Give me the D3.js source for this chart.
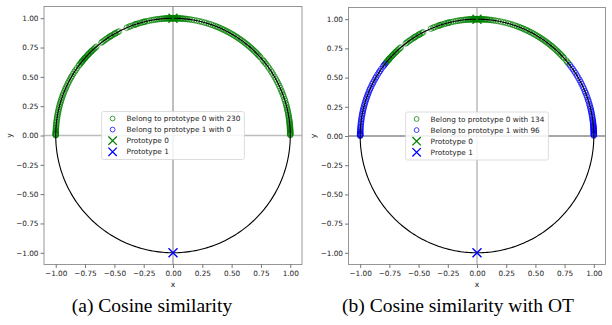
<!DOCTYPE html>
<html><head><meta charset="utf-8">
<script src="https://cdn.jsdelivr.net/npm/d3@7"></script>
<style>
html,body{margin:0;padding:0;background:#fff;}
svg{display:block;}
</style></head>
<body>
<svg id="chart" width="612" height="325"></svg>
<script>
// ---------- DATA ----------
// angles (degrees) of the 230 normalised samples on the upper unit semicircle
// OT assignment: samples that go to prototype 1 (near both ends of the arc)
const otProto1Angles = [
  0.2,0.5,0.8,1.1,1.4,1.8,2.1,2.5,2.9,3.3,3.6,4.0,4.4,4.9,5.3,5.8,6.4,6.9,7.5,8.0,
  8.7,9.5,10.2,11.0,11.8,12.5,13.4,14.2,15.1,16.0,17.2,18.1,19.3,20.4,21.6,22.5,23.8,25.0,
  26.3,27.4,28.6,29.9,31.2,32.5,33.6,34.9,36.1,37.4,
  142.0,142.8,143.5,145.0,146.2,147.1,148.3,149.6,150.4,151.5,152.7,153.6,154.8,155.9,156.7,
  157.8,158.9,159.7,160.6,161.5,162.4,163.3,164.2,165.0,165.9,166.7,167.6,168.4,169.2,170.0,
  170.9,171.7,172.5,173.3,174.0,174.8,175.5,176.2,176.8,177.4,177.9,178.3,178.7,179.0,179.3,
  179.5,179.7,179.9
];
// OT assignment: samples that go to prototype 0 (middle of the arc)
const otProto0Angles = [
  38.5,39.3,40.2,41.9,42.7,43.6,44.3,45.1,46.0,46.8,47.7,48.5,49.4,50.2,51.0,51.9,52.7,
  53.6,54.4,55.3,56.1,57.0,57.8,58.7,59.5,60.4,61.2,62.1,63.0,63.8,64.7,65.5,66.4,67.3,68.1,
  69.0,70.0,71.1,72.2,73.4,74.5,75.8,77.0,78.3,
  79.6,80.8,81.9,82.8,83.6,84.3,85.0,85.6,86.2,86.7,87.2,87.6,88.0,88.4,88.7,89.0,89.3,89.6,
  89.8,90.0,90.2,90.4,90.7,91.0,91.3,91.6,92.0,92.4,92.9,93.4,94.0,94.6,95.3,96.0,96.8,97.7,
  98.6,99.5,100.5,101.6,
  102.8,103.9,104.6,105.5,106.3,107.4,108.2,109.0,110.1,111.3,112.0,113.2,117.5,118.3,119.2,
  120.0,121.1,121.9,122.7,123.5,124.4,125.2,126.0,126.9,127.6,130.8,131.5,132.3,133.0,133.8,
  134.5,135.2,135.9,136.6,137.3,137.9,138.5,139.1,139.6,140.1,140.6,141.1,141.4,108.7,104.2,
  119.7,122.3,134.1,136.2,138.8
];
// plain cosine similarity: every sample goes to prototype 0
const cosProto0Angles = otProto0Angles.concat(otProto1Angles);
const cosProto1Angles = [];

const prototypeX = [0, 0];
const prototypeY = [1, -1];
const prototypeNames = ["Prototype 0", "Prototype 1"];
const captions = ["(a) Cosine similarity", "(b) Cosine similarity with OT"];
const xTickValues = [-1, -0.75, -0.5, -0.25, 0, 0.25, 0.5, 0.75, 1];
const yTickValues = [-1, -0.75, -0.5, -0.25, 0, 0.25, 0.5, 0.75, 1];
const axisDomain = [-1.1, 1.1];

// ---------- STYLE ----------
const GREEN = "#008000", BLUE = "#0000ff";
const FONT = "DejaVu Sans, sans-serif";
const FS = 7.3;

const svg = d3.select("#chart");

const panels = [
  {left: 44, right: 302, top: 6.5, bottom: 264.5, p0: cosProto0Angles, p1: cosProto1Angles,
   caption: captions[0], capX: 152, vCol: "#a8a8a8", hCol: "#bdbdbd", yLabX: 9},
  {left: 348.5, right: 605.5, top: 7.5, bottom: 264.5, p0: otProto0Angles, p1: otProto1Angles,
   caption: captions[1], capX: 458, vCol: "#bdbdbd", hCol: "#8a8a8a", yLabX: 313}
];

panels.forEach(p => {
  const x = d3.scaleLinear().domain(axisDomain).range([p.left, p.right]);
  const y = d3.scaleLinear().domain(axisDomain).range([p.bottom, p.top]);
  const g = svg.append("g");

  const cid = "clip" + Math.round(p.left);
  g.append("clipPath").attr("id", cid).append("rect")
    .attr("x", p.left).attr("y", p.top).attr("width", p.right - p.left).attr("height", p.bottom - p.top);
  const plot = g.append("g").attr("clip-path", `url(#${cid})`);

  // zero lines
  plot.append("line").attr("x1", x(0)).attr("x2", x(0)).attr("y1", p.top).attr("y2", p.bottom)
    .attr("stroke", p.vCol).attr("stroke-width", 1.5);
  plot.append("line").attr("y1", y(0)).attr("y2", y(0)).attr("x1", p.left).attr("x2", p.right)
    .attr("stroke", p.hCol).attr("stroke-width", 1.5);

  // points
  const toXY = a => [Math.cos(a * Math.PI / 180), Math.sin(a * Math.PI / 180)];
  [[p.p0, GREEN], [p.p1, BLUE]].forEach(([arr, col]) => {
    plot.append("g").selectAll("circle").data(arr).join("circle")
      .attr("cx", d => x(toXY(d)[0])).attr("cy", d => y(toXY(d)[1]))
      .attr("r", 2.8).attr("fill", "none").attr("stroke", col)
      .attr("stroke-opacity", 0.7).attr("stroke-width", 1.0);
  });

  // unit circle
  const circ = d3.range(0, 361, 1).map(a => toXY(a));
  plot.append("path").attr("d", d3.line().x(d => x(d[0])).y(d => y(d[1]))(circ))
    .attr("fill", "none").attr("stroke", "#000").attr("stroke-width", 1.1);

  // prototypes
  const protoCols = [GREEN, BLUE];
  prototypeX.forEach((px, i) => {
    const cx = x(px), cy = y(prototypeY[i]), s = 4.5;
    plot.append("path").attr("d", `M${cx - s},${cy - s}L${cx + s},${cy + s}M${cx - s},${cy + s}L${cx + s},${cy - s}`)
      .attr("stroke", protoCols[i]).attr("stroke-width", 1.4).attr("fill", "none");
  });

  // frame
  g.append("rect").attr("x", p.left).attr("y", p.top).attr("width", p.right - p.left)
    .attr("height", p.bottom - p.top).attr("fill", "none").attr("stroke", "#8c8c8c").attr("stroke-width", 0.9);

  // axes
  const fmt = d3.format(".2f");
  const ax = g.append("g").attr("transform", `translate(0,${p.bottom})`)
    .call(d3.axisBottom(x).tickValues(xTickValues).tickFormat(fmt).tickSize(3.5).tickPadding(2.5));
  const ay = g.append("g").attr("transform", `translate(${p.left},0)`)
    .call(d3.axisLeft(y).tickValues(yTickValues).tickFormat(fmt).tickSize(3.5).tickPadding(2));
  [ax, ay].forEach(a => {
    a.select(".domain").remove();
    a.selectAll("line").attr("stroke", "#555").attr("stroke-width", 0.8);
    a.selectAll("text").attr("font-family", FONT).attr("font-size", FS).attr("fill", "#222");
  });

  g.append("text").attr("x", (p.left + p.right) / 2).attr("y", 287).attr("text-anchor", "middle")
    .attr("font-family", FONT).attr("font-size", FS + 0.3).attr("fill", "#222").text("x");
  g.append("text").attr("transform", `translate(${p.yLabX},${(p.top + p.bottom) / 2}) rotate(-90)`)
    .attr("text-anchor", "middle").attr("dominant-baseline", "central")
    .attr("font-family", FONT).attr("font-size", FS + 0.3).attr("fill", "#222").text("y");

  // legend
  const entries = [
    {label: `Belong to prototype 0 with ${p.p0.length}`, col: GREEN, type: "o"},
    {label: `Belong to prototype 1 with ${p.p1.length}`, col: BLUE, type: "o"},
    {label: prototypeNames[0], col: GREEN, type: "x"},
    {label: prototypeNames[1], col: BLUE, type: "x"}
  ];
  const lg = g.append("g");
  const box = lg.append("rect").attr("rx", 2).attr("fill", "#fff").attr("fill-opacity", 0.85)
    .attr("stroke", "#d4d4d4").attr("stroke-width", 0.8);
  const texts = [];
  entries.forEach((e, i) => {
    const t = lg.append("text").attr("x", 25).attr("y", 7 + i * 11.1).attr("dominant-baseline", "central")
      .attr("font-family", FONT).attr("font-size", FS).attr("fill", "#222").text(e.label);
    texts.push(t);
    const mx = 11, my = 7 + i * 11.1;
    if (e.type === "o") {
      lg.append("circle").attr("cx", mx).attr("cy", my).attr("r", 2.4).attr("fill", "none")
        .attr("stroke", e.col).attr("stroke-opacity", 0.75).attr("stroke-width", 1.0);
    } else {
      const s = 4.2;
      lg.append("path").attr("d", `M${mx - s},${my - s}L${mx + s},${my + s}M${mx - s},${my + s}L${mx + s},${my - s}`)
        .attr("stroke", e.col).attr("stroke-width", 1.3);
    }
  });
  const tw = d3.max(texts, t => t.node().getComputedTextLength());
  const lw = 25 + tw + 4, lh = 48;
  box.attr("x", 0).attr("y", 0).attr("width", lw).attr("height", lh);
  lg.attr("transform", `translate(${(p.left + p.right) / 2 - lw / 2},${(p.top + p.bottom) / 2 - lh / 2})`);

  // caption
  svg.append("text").attr("x", p.capX).attr("y", 312).attr("text-anchor", "middle")
    .attr("font-family", "Liberation Serif, serif").attr("font-size", 19.5).attr("fill", "#000")
    .text(p.caption);
});
</script>
</body></html>
